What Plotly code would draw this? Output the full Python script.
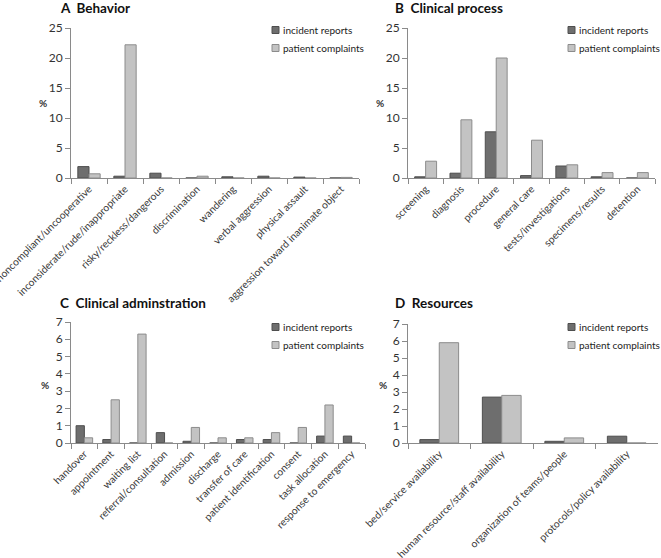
import plotly.graph_objects as go

W, H = 661, 558

# ---- data ----
series_names = ["incident reports", "patient complaints"]

behavior_cats = ["noncompliant/uncooperative", "inconsiderate/rude/inappropriate",
                 "risky/reckless/dangerous", "discrimination", "wandering",
                 "verbal aggression", "physical assault", "aggression toward inanimate object"]
behavior_ir = [1.9, 0.3, 0.8, 0.0, 0.2, 0.3, 0.15, 0.0]
behavior_pc = [0.7, 22.2, 0.0, 0.3, 0.0, 0.0, 0.0, 0.1]

process_cats = ["screening", "diagnosis", "procedure", "general care",
                "tests/investigations", "specimens/results", "detention"]
process_ir = [0.2, 0.8, 7.7, 0.4, 2.0, 0.2, 0.0]
process_pc = [2.8, 9.7, 20.0, 6.3, 2.2, 0.9, 0.9]

admin_cats = ["handover", "appointment", "waiting list", "referral/consultation",
              "admission", "discharge", "transfer of care", "patient identification",
              "consent", "task allocation", "response to emergency"]
admin_ir = [1.0, 0.2, 0.0, 0.6, 0.1, 0.0, 0.2, 0.2, 0.0, 0.4, 0.4]
admin_pc = [0.3, 2.5, 6.3, 0.0, 0.9, 0.3, 0.3, 0.6, 0.9, 2.2, 0.0]

resource_cats = ["bed/service availability", "human resource/staff availability",
                 "organization of teams/people", "protocols/policy availability"]
resource_ir = [0.2, 2.7, 0.1, 0.4]
resource_pc = [5.9, 2.8, 0.3, 0.0]

titles = ["A\u00a0\u00a0Behavior", "B\u00a0\u00a0Clinical process",
          "C\u00a0\u00a0Clinical adminstration", "D\u00a0\u00a0Resources"]
y_max = [25, 25, 7, 7]
y_dtick = [5, 5, 1, 1]

# ---- styling ----
FONT = "Lato, Open Sans, sans-serif"
DARK_FILL, DARK_LINE = "#6e6e6e", "#4e4e4e"
LIGHT_FILL, LIGHT_LINE = "#c3c3c3", "#8c8c8c"
AXIS_COL = "#8a8a8a"
fills = [(DARK_FILL, DARK_LINE), (LIGHT_FILL, LIGHT_LINE)]

def px_x(p):
    return p / W

def px_y(p):
    return 1 - p / H

# panel pixel boxes: (x0, x1, y_top(max), y_bottom(0))
boxes = [(71, 359, 28, 178), (408, 655, 28, 178), (71, 365, 322, 443), (408, 658, 324, 443)]
title_pos = [(58, 8), (393, 8), (58, 303), (393, 303)]
pct_pos = [(43, 103), (380, 103), (45, 385), (383, 385)]
legend_pos = [(272, 30), (568, 30), (272, 327), (568, 327)]

panels = [(behavior_cats, behavior_ir, behavior_pc),
          (process_cats, process_ir, process_pc),
          (admin_cats, admin_ir, admin_pc),
          (resource_cats, resource_ir, resource_pc)]

fig = go.Figure()
layout = {}
for i, ((cats, ir, pc), (x0, x1, yt, yb)) in enumerate(zip(panels, boxes)):
    n = "" if i == 0 else str(i + 1)
    xa, ya = "x" + n, "y" + n
    for s, vals in enumerate([ir, pc]):
        fig.add_trace(go.Bar(x=cats, y=vals, name=series_names[s], xaxis=xa, yaxis=ya,
                             marker=dict(color=fills[s][0], line=dict(color=fills[s][1], width=1)),
                             showlegend=False))
    layout["xaxis" + n] = dict(domain=[px_x(x0), px_x(x1)], anchor=ya, type="category",
                               automargin=False,
                               showline=True, linecolor=AXIS_COL, linewidth=1,
                               ticks="outside", tickson="boundaries", ticklen=5,
                               tickcolor=AXIS_COL, tickangle=-45,
                               tickfont=dict(size=10.3, color="#3a3a3a", family=FONT),
                               showgrid=False, zeroline=False)
    layout["yaxis" + n] = dict(domain=[px_y(yb), px_y(yt)], anchor=xa,
                               automargin=False,
                               range=[0, y_max[i]], dtick=y_dtick[i],
                               showline=True, linecolor=AXIS_COL, linewidth=1,
                               ticks="outside", ticklen=5, tickcolor=AXIS_COL,
                               tickfont=dict(size=12, color="#333", family=FONT),
                               showgrid=False, zeroline=False)
    # title
    tx, ty = title_pos[i]
    fig.add_annotation(text="<b>" + titles[i] + "</b>", xref="paper", yref="paper",
                       x=px_x(tx), y=px_y(ty), xanchor="left", yanchor="middle",
                       showarrow=False, font=dict(size=13.5, color="#111", family=FONT))
    # "%" axis label
    px_, py_ = pct_pos[i]
    fig.add_annotation(text="<b>%</b>", xref="paper", yref="paper",
                       x=px_x(px_), y=px_y(py_), xanchor="center", yanchor="middle",
                       showarrow=False, font=dict(size=10, color="#333", family=FONT))
    # legend
    lx, ly = legend_pos[i]
    for s in range(2):
        cy = ly + 18 * s
        fig.add_shape(type="rect", xref="paper", yref="paper",
                      x0=px_x(lx), x1=px_x(lx + 7), y0=px_y(cy + 3.5), y1=px_y(cy - 3.5),
                      fillcolor=fills[s][0], line=dict(color=fills[s][1], width=1))
        fig.add_annotation(text=series_names[s], xref="paper", yref="paper",
                           x=px_x(lx + 9), y=px_y(cy), xanchor="left", yanchor="middle",
                           showarrow=False, font=dict(size=10, color="#222", family=FONT))

fig.update_layout(**layout)
fig.update_layout(width=W, height=H, margin=dict(l=0, r=0, t=0, b=0),
                  paper_bgcolor="white", plot_bgcolor="white",
                  barmode="group", bargap=0.38, bargroupgap=0.0,
                  font=dict(family=FONT), showlegend=False)

fig.write_html("out.html", config={"displayModeBar": False},
               post_script="document.body.style.margin='0';")
